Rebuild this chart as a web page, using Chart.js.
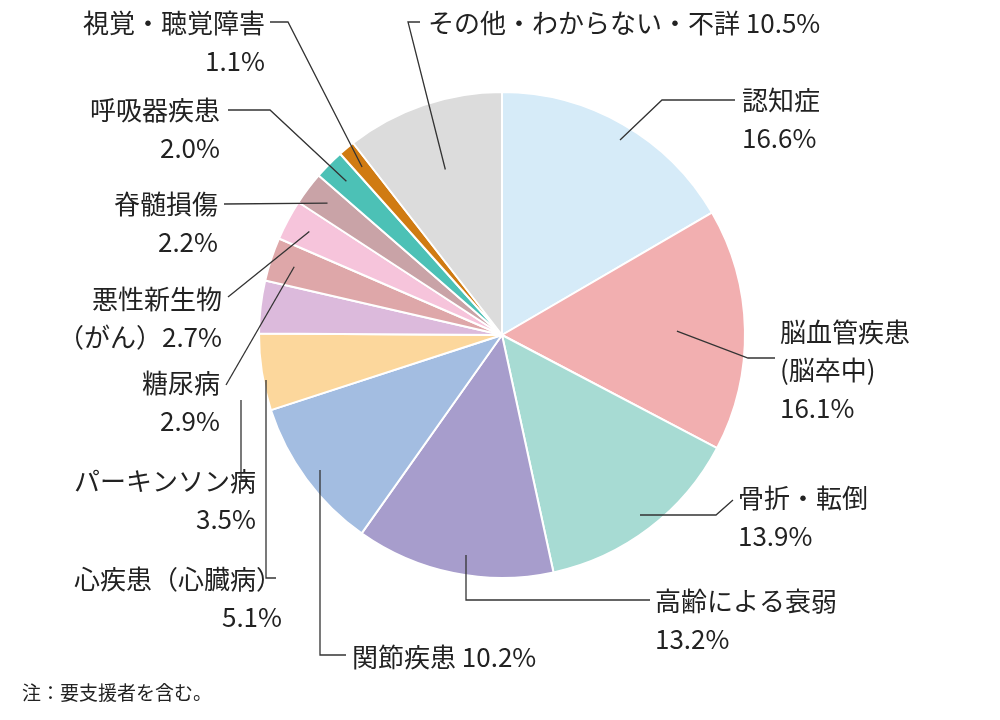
<!DOCTYPE html>
<html><head><meta charset="utf-8">
<script src="https://cdn.jsdelivr.net/npm/chart.js@4/dist/chart.umd.min.js"></script>
<style>body{margin:0;background:#fff}canvas{display:block}</style></head>
<body><canvas id="c" width="1000" height="720"></canvas>
<script>
const categories=['認知症','脳血管疾患(脳卒中)','骨折・転倒','高齢による衰弱','関節疾患','心疾患(心臓病)','パーキンソン病','糖尿病','悪性新生物(がん)','脊髄損傷','呼吸器疾患','視覚・聴覚障害','その他・わからない・不詳'];
const values=[16.6,16.1,13.9,13.2,10.2,5.1,3.5,2.9,2.7,2.2,2.0,1.1,10.5];
const colors=['#d6ebf8','#f2afb0','#a7dbd3','#a79dcc','#a3bde1','#fcd79c','#dcbadc','#dea7a9','#f6c4db','#c9a3a7','#4cc1b6','#d07b12','#dcdcdc'];
const labels=[
 {t:['認知症','16.6%'],x:742,y:110,a:'left',p:[[735,100],[662,100],[620,140]]},
 {t:['脳血管疾患','(脳卒中)','16.1%'],x:780,y:342,a:'left',p:[[775,358],[748,358]]},
 {t:['骨折・転倒','13.9%'],x:738,y:508,a:'left',p:[[733,500],[716,515],[640,515]]},
 {t:['高齢による衰弱','13.2%'],x:655,y:611,a:'left',p:[[650,600],[466,600],[466,555]]},
 {t:['関節疾患 10.2%'],x:352,y:667,a:'left',p:[[346,655],[320,655],[320,470]]},
 {t:['心疾患（心臓病）','5.1%'],x:282,y:589,a:'right',p:[[276,578],[266,578],[266,380]]},
 {t:['パーキンソン病','3.5%'],x:256,y:491,a:'right',p:[[248,480],[241,480],[241,400]]},
 {t:['糖尿病','2.9%'],x:220,y:393,a:'right',p:[[226,385]]},
 {t:['悪性新生物','（がん）2.7%'],x:222,y:309,a:'right',p:[[228,297]]},
 {t:['脊髄損傷','2.2%'],x:218,y:214,a:'right',p:[[224,204]]},
 {t:['呼吸器疾患','2.0%'],x:220,y:120,a:'right',p:[[228,110],[270,110]]},
 {t:['視覚・聴覚障害','1.1%'],x:265,y:33,a:'right',p:[[270,22],[288,22]]},
 {t:['その他・わからない・不詳 10.5%'],x:428,y:33,a:'left',p:[[420,22],[408,22]]}
];
const FONT='"Noto Sans CJK JP","Noto Sans",sans-serif';
const deco={id:'deco',afterDraw(ch){
 const c=ch.ctx,arcs=ch.getDatasetMeta(0).data;
 c.save();c.strokeStyle='#333';c.lineWidth=1.3;c.fillStyle='#222';
 labels.forEach((L,i)=>{
  const a=arcs[i],m=(a.startAngle+a.endAngle)/2,rr=a.outerRadius*(i>=7&&i<=11?0.9:0.72);
  c.beginPath();c.moveTo(L.p[0][0],L.p[0][1]);L.p.slice(1).forEach(q=>c.lineTo(q[0],q[1]));
  if(L.p.length<3) c.lineTo(a.x+Math.cos(m)*rr,a.y+Math.sin(m)*rr);
  c.stroke();
  c.font='26px '+FONT;c.textAlign=L.a;c.textBaseline='alphabetic';
  L.t.forEach((s,k)=>c.fillText(s,L.x,L.y+k*38));
 });
 c.font='19px '+FONT;c.textAlign='left';c.fillText('注：要支援者を含む。',22,700);
 c.restore();}};
new Chart(document.getElementById('c'),{type:'pie',
 data:{labels:categories,datasets:[{data:values,backgroundColor:colors,borderColor:'#fff',borderWidth:2}]},
 options:{responsive:false,animation:false,radius:243,layout:{padding:{left:4,right:0,top:0,bottom:50}},
  plugins:{legend:{display:false},tooltip:{enabled:false}}},
 plugins:[deco]});
</script></body></html>
